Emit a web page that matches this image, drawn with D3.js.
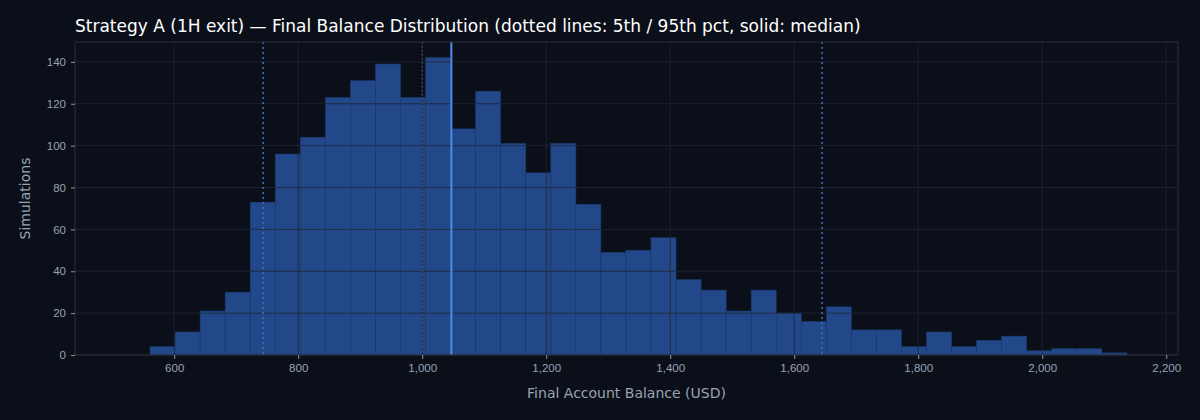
<!DOCTYPE html>
<html><head><meta charset="utf-8">
<script src="https://cdn.jsdelivr.net/npm/d3@7"></script>
<style>body{margin:0;background:#0b0f19;}svg{display:block;font-family:"DejaVu Sans",sans-serif;}</style>
</head><body><div id="chart"></div>
<script>
// Histogram of final balances
const binStart = 561, binWidth = 40.4;
const counts = [4,11,21,30,73,96,104,123,131,139,123,142,108,126,101,87,101,72,49,50,56,36,31,21,31,20,16,23,12,12,4,11,4,7,9,2,3,3,1];
const xTicks = [600,800,1000,1200,1400,1600,1800,2000,2200];
const yTicks = [0,20,40,60,80,100,120,140];
const p5 = 743.5, p95 = 1645, median = 1047, startBal = 1000;

const W = 1200, H = 420;
const margin = { top: 42, right: 22, bottom: 65, left: 75 },
    width = W - margin.left - margin.right,
    height = H - margin.top - margin.bottom;

const svg = d3.select("#chart").append("svg").attr("width", W).attr("height", H);
svg.append("rect").attr("width", W).attr("height", H).attr("fill", "#0b0f19");
const g = svg.append("g").attr("transform", `translate(${margin.left},${margin.top})`);

const x = d3.scaleLinear().domain([440, 2219]).range([0, width]);
const y = d3.scaleLinear().domain([0, 149.5]).range([height, 0]);

const bins = counts.map((c, i) => ({ x0: binStart + i * binWidth, x1: binStart + (i + 1) * binWidth, c }));
g.selectAll("rect.bar").data(bins).enter().append("rect")
    .attr("class", "bar")
    .attr("x", d => x(d.x0)).attr("width", d => x(d.x1) - x(d.x0))
    .attr("y", d => y(d.c)).attr("height", d => y(0) - y(d.c))
    .attr("fill", "#224889").attr("stroke", "#1b3a70").attr("stroke-width", 0.6);

// grid on top
g.selectAll("line.gx").data(xTicks).enter().append("line")
    .attr("x1", d => x(d)).attr("x2", d => x(d)).attr("y1", 0).attr("y2", height)
    .attr("stroke", "#1f2633").attr("stroke-opacity", 0.8);
g.selectAll("line.gy").data(yTicks).enter().append("line")
    .attr("y1", d => y(d)).attr("y2", d => y(d)).attr("x1", 0).attr("x2", width)
    .attr("stroke", "#1f2633").attr("stroke-opacity", 0.8);

// reference lines
const vline = (v, color, dash, w) => g.append("line")
    .attr("x1", x(v)).attr("x2", x(v)).attr("y1", 0).attr("y2", height)
    .attr("stroke", color).attr("stroke-width", w).attr("stroke-dasharray", dash);
vline(startBal, "#5a6272", "1.5,2.5", 1);
vline(p5, "#3d6cc0", "2,3", 1.6);
vline(p95, "#3d6cc0", "2,3", 1.6);
vline(median, "#4d8eef", null, 2);

// frame
g.append("rect").attr("width", width).attr("height", height)
    .attr("fill", "none").attr("stroke", "#2a303c");

const xAxis = g.append("g").attr("transform", `translate(0,${height})`)
    .call(d3.axisBottom(x).tickValues(xTicks).tickSize(4).tickPadding(5));
const yAxis = g.append("g").call(d3.axisLeft(y).tickValues(yTicks).tickSize(4).tickPadding(5));
[xAxis, yAxis].forEach(a => {
    a.select(".domain").remove();
    a.selectAll(".tick line").attr("stroke", "#8a93a3");
    a.selectAll(".tick text").attr("fill", "#9aa3b3").style("font-size", "11.5px");
});

svg.append("text").attr("x", margin.left + width / 2).attr("y", 398)
    .attr("text-anchor", "middle").attr("fill", "#9aa3b3").style("font-size", "14px")
    .text("Final Account Balance (USD)");
svg.append("text").attr("transform", `translate(30,${margin.top + height / 2}) rotate(-90)`)
    .attr("text-anchor", "middle").attr("fill", "#9aa3b3").style("font-size", "14px")
    .text("Simulations");
svg.append("text").attr("x", 75).attr("y", 32).attr("fill", "#ffffff").style("font-size", "17px")
    .text("Strategy A (1H exit) — Final Balance Distribution (dotted lines: 5th / 95th pct, solid: median)");
</script></body></html>
